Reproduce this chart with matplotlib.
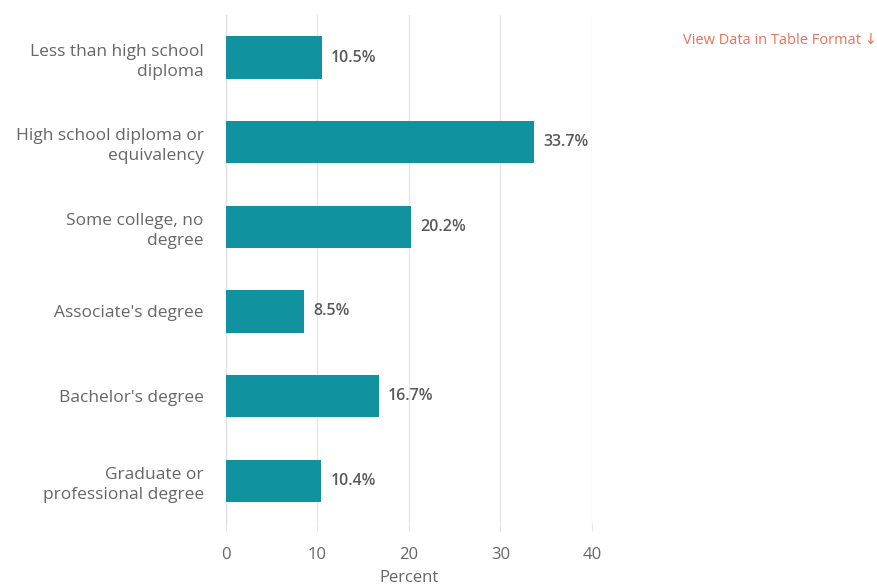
import matplotlib.pyplot as plt

categories = [
    "Less than high school\ndiploma",
    "High school diploma or\nequivalency",
    "Some college, no\ndegree",
    "Associate's degree",
    "Bachelor's degree",
    "Graduate or\nprofessional degree",
]
percents = [10.5, 33.7, 20.2, 8.5, 16.7, 10.4]
xticks = [0, 10, 20, 30, 40]

BAR_COLOR = "#10929f"
TEXT_COLOR = "#666666"

plt.rcParams["font.family"] = ["Open Sans", "DejaVu Sans"]

fig = plt.figure(figsize=(8.77, 5.86), dpi=100)
ax = fig.add_axes([0.2577, 0.1075, 0.4173, 0.8665])

ypos = list(range(len(categories)))
ax.barh(ypos, percents, height=0.5, color=BAR_COLOR, zorder=3)
for y, v in zip(ypos, percents):
    ax.text(v + 1.0, y, f"{v:.1f}%", va="center", ha="left",
            fontsize=11.5, color="#5a5a5a", fontweight="semibold")

ax.set_xlim(0, 40)
ax.set_ylim(len(categories) - 0.5, -0.5)
ax.set_yticks(ypos)
ax.set_yticklabels(categories, fontsize=12.5, color=TEXT_COLOR, linespacing=1.35)
ax.set_xticks(xticks)
ax.set_xticklabels([str(t) for t in xticks], fontsize=12, color=TEXT_COLOR)
ax.tick_params(axis="y", length=0, pad=16)
ax.tick_params(axis="x", length=6, color="#e6e6e6", pad=11)
ax.grid(axis="x", color="#e6e6e6", linewidth=1, zorder=0)
for side in ["top", "right", "bottom"]:
    ax.spines[side].set_visible(False)
ax.spines["left"].set_color("#dcdce8")
ax.set_xlabel("Percent", fontsize=12, color=TEXT_COLOR, labelpad=5)

fig.text(0.779, 0.931, "View Data in Table Format \u2193", fontsize=10.5,
         color="#e8735a", ha="left", va="center")

fig.savefig("out.png", dpi=100)
